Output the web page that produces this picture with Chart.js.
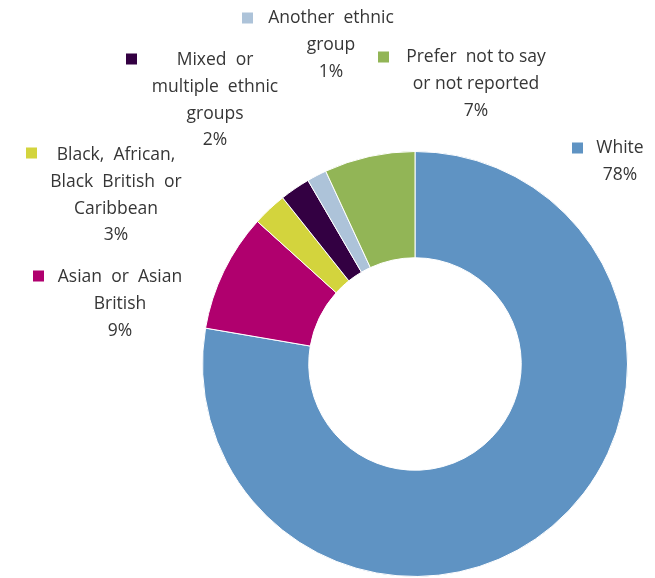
<!DOCTYPE html>
<html>
<head>
<meta charset="utf-8">
<script src="https://cdn.jsdelivr.net/npm/chart.js@4/dist/chart.umd.min.js"></script>
<style>
html,body{margin:0;padding:0;background:#fff;overflow:hidden;}
#wrap{position:relative;width:655px;height:578px;}
</style>
</head>
<body>
<div id="wrap"><canvas id="c" width="655" height="578"></canvas></div>
<script>
// ---- data ----
const categories = ["White", "Asian or Asian British", "Black, African, Black British or Caribbean", "Mixed or multiple ethnic groups", "Another ethnic group", "Prefer not to say or not reported"];
const values = [77.7, 9.0, 2.6, 2.3, 1.5, 6.9];
const percentLabels = ["78%", "9%", "3%", "2%", "1%", "7%"];
const labelLines = [
  ["White"],
  ["Asian  or  Asian", "British"],
  ["Black,  African,", "Black  British  or", "Caribbean"],
  ["Mixed  or", "multiple  ethnic", "groups"],
  ["Another  ethnic", "group"],
  ["Prefer  not to say", "or not reported"]
];
const colors = ["#5f93c3", "#b0006e", "#d3d43d", "#330042", "#adc3d9", "#92b556"];

// ---- label layout (centre x of text block, y of first line, marker left x, marker centre y) ----
const labelLayout = [
  {x: 620, y: 148, mx: 572, my: 148},
  {x: 120, y: 277, mx: 33, my: 276},
  {x: 116, y: 155, mx: 26, my: 153},
  {x: 215, y: 60, mx: 126, my: 59},
  {x: 331, y: 18, mx: 242, my: 18},
  {x: 476, y: 57, mx: 378, my: 57}
];
const lineHeight = 26.8;

const labelPlugin = {
  id: 'sideLabels',
  afterDraw(chart) {
    const ctx = chart.ctx;
    ctx.save();
    ctx.font = '17.5px "Open Sans"';
    ctx.textAlign = 'center';
    ctx.textBaseline = 'middle';
    categories.forEach((cat, i) => {
      const lines = labelLines[i].concat([percentLabels[i]]);
      const pos = labelLayout[i];
      ctx.fillStyle = '#363636';
      lines.forEach((ln, j) => {
        ctx.fillText(ln, pos.x, pos.y + j * lineHeight);
      });
      ctx.fillStyle = colors[i];
      ctx.fillRect(pos.mx, pos.my - 5.5, 11, 11);
    });
    ctx.restore();
  }
};

function build() {
  new Chart(document.getElementById('c'), {
    type: 'doughnut',
    data: {
      labels: categories,
      datasets: [{
        data: values,
        backgroundColor: colors,
        borderColor: '#ffffff',
        borderWidth: 1
      }]
    },
    options: {
      responsive: false,
      animation: false,
      cutout: '50%',
      layout: {padding: {left: 202, right: 27, top: 151, bottom: 1}},
      plugins: {legend: {display: false}, tooltip: {enabled: false}}
    },
    plugins: [labelPlugin]
  });
}
if (document.fonts && document.fonts.load) {
  document.fonts.load('17.5px "Open Sans"').then(build, build);
} else { build(); }
</script>
</body>
</html>
